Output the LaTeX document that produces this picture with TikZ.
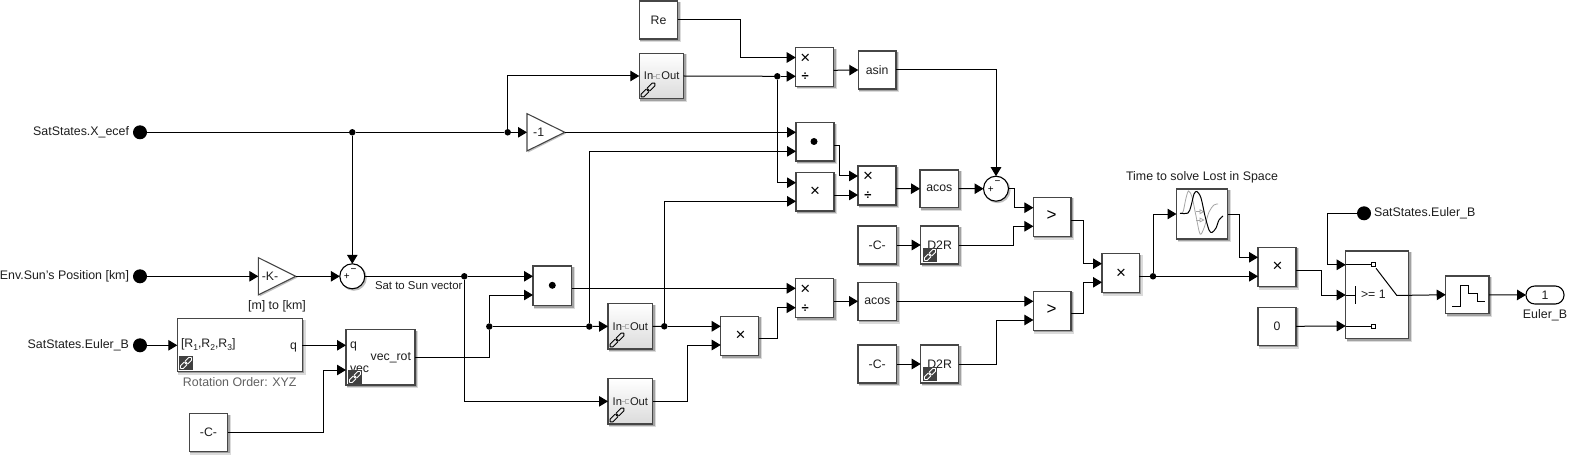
\documentclass[tikz,border=0pt]{standalone}
\usepackage{fontspec}
\setmainfont{Liberation Sans}
\usetikzlibrary{arrows.meta,calc}
\definecolor{edge}{HTML}{464646}
\definecolor{ink}{HTML}{1E1E1E}
\tikzset{
  conn/.style={line width=1pt,black,-{Triangle[length=9pt,width=10.5pt]}},
  wire/.style={line width=1pt,black},
  blk/.style={draw=edge,line width=1.1pt,fill=white,inner sep=0pt,outer sep=0pt,text=ink,font=\fontsize{12.3}{14}\selectfont},
  gradblk/.style={blk,top color=white,bottom color=black!14},
  hollow/.style={inner sep=0pt,outer sep=0pt,text=ink,font=\fontsize{12.3}{14}\selectfont},
  portname/.style={inner sep=0pt,outer sep=0pt,text=ink,font=\fontsize{11.2}{14}\selectfont},
  lbl/.style={inner sep=0pt,outer sep=0pt,text=ink,font=\fontsize{12.4}{14}\selectfont},
  sublbl/.style={inner sep=0pt,outer sep=0pt,text=ink,font=\fontsize{11.4}{14}\selectfont},
  glyph/.style={inner sep=0pt,outer sep=0pt,text=black,font=\fontsize{17}{17}\selectfont},
  divglyph/.style={inner sep=0pt,outer sep=0pt,text=black,font=\fontsize{13}{13}\selectfont\bfseries},
  tinysign/.style={inner sep=0pt,outer sep=0pt,text=black,font=\fontsize{10}{10}\selectfont},
  jn/.style={circle,fill=black,minimum size=6.5pt,inner sep=0pt,outer sep=0pt},
  portdot/.style={circle,fill=black,minimum size=14pt,inner sep=0pt,outer sep=0pt},
  sumblk/.style={circle,draw=black,line width=1.1pt,fill=white,minimum size=25pt,inner sep=0pt,outer sep=0pt},
  ghost/.style={inner sep=0pt,outer sep=0pt,text=ink,font=\fontsize{12.3}{14}\selectfont},
}
\newcommand{\shadowrect}[4]{%
  \fill[black,opacity=.14] ({#1+1},{#2+1}) rectangle ({#3+3.2},{#4+3.2});
  \fill[black,opacity=.26] ({#1+1},{#2+1}) rectangle ({#3+2},{#4+2});
}
\newcommand{\blk}[7][blk]{%
  \shadowrect{#3}{#4}{#5}{#6}
  \node[#1,minimum width={(#5-(#3))*1pt},minimum height={(#6-(#4))*1pt}] (#2) at ({(#3+#5)/2},{(#4+#6)/2}) {#7};
}
\newcommand{\chain}[4]{% x, y (centre), colour, half length
  \begin{scope}[shift={(#1,#2)},rotate=45]
    \draw[#3,line width=.9pt,rounded corners=1.6pt] ({-#4},-1.9) rectangle (0.8,1.9);
    \draw[#3,line width=.9pt,rounded corners=1.6pt] (-0.8,-1.9) rectangle (#4,1.9);
  \end{scope}
}
\newcommand{\darklink}[2]{% left, top
  \fill[black!75] (#1,#2) rectangle ({#1+14},{#2+14});
  \chain{#1+7}{#2+7}{white}{7.5}
}
\newcommand{\inout}[2]{% centre x, y
  \draw[black!30,line width=.7pt] ({#1-4},#2) -- ({#1-1},#2);
  \draw[black!30,line width=.7pt] ({#1+3},{#2-2}) -- ({#1-1},{#2-2}) -- ({#1-1},{#2+2}) -- ({#1+3},{#2+2});
  \node[portname,anchor=east] at ({#1-4},#2) {In};
  \node[portname,anchor=west] at ({#1+4},#2) {Out};
}
\begin{document}
\begin{tikzpicture}[x=1pt,y=-1pt]
\useasboundingbox (0,0) rectangle (1570,457);
\fill[white] (0,0) rectangle (1570,457);

% ---------- source labels and signal dots
\node[lbl,anchor=east] (txa) at (129,132.3) {SatStates.X\_ecef};
\node[lbl,anchor=east] (txb) at (129,276) {Env.Sun's Position [km]};
\node[lbl,anchor=east] (txc) at (129,345) {SatStates.Euler\_B};
\node[portdot] (xdot) at (140,132.3) {};
\node[portdot] (sdot) at (140,276.3) {};
\node[portdot] (edot) at (140,345.3) {};
\node[portdot] (gdot) at (1364,213.3) {};
\node[lbl,anchor=west] (txd) at (1374,213) {SatStates.Euler\_B};

% ---------- gains
\node[ghost,minimum width=37.4pt,minimum height=37.3pt] (gk) at (277,276.3) {};
\fill[black,opacity=.25] (259.5,259) -- (297.5,277.5) -- (259.5,296.5) -- cycle;
\draw[edge,line width=1.1pt,fill=white,line join=miter] (gk.north west) -- (gk.east) -- (gk.south west) -- cycle;
\node[hollow] (gkt) at (270,276.3) {-K-};
\node[lbl] (gkl) at (277,306) {[m] to [km]};
\node[ghost,minimum width=37.7pt,minimum height=37.3pt] (gm) at (545.85,132.3) {};
\fill[black,opacity=.25] (528,115) -- (566,133.5) -- (528,152.5) -- cycle;
\draw[edge,line width=1.1pt,fill=white,line join=miter] (gm.north west) -- (gm.east) -- (gm.south west) -- cycle;
\node[hollow] (gmt) at (538.7,132.3) {-1};

% ---------- sums
\fill[black,opacity=.25] (353.8,277.8) circle (13);
\node[sumblk] (sa) at (352.3,276.3) {};
\node[tinysign] (sap) at (346.7,277) {+};
\node[tinysign] (sam) at (353.6,270.4) {−};
\fill[black,opacity=.25] (997.5,190.2) circle (13);
\node[sumblk] (sb) at (996,188.7) {};
\node[tinysign] (sbp) at (990.7,189.5) {+};
\node[tinysign] (sbm) at (997.5,182.4) {−};

% ---------- blocks
\blk{re}{639.3}{1}{677.7}{39}{Re}
\blk[gradblk]{ua}{639.3}{53.3}{683.7}{98.7}{}
\inout{657.3}{76}
\chain{648}{90}{black}{9.5}
\blk[gradblk]{ub}{608}{303.7}{652.5}{349}{}
\inout{626}{326.3}
\chain{617}{340}{black}{9.5}
\blk[gradblk]{uc}{608}{378.7}{652.5}{424}{}
\inout{626}{401.2}
\chain{617}{415}{black}{9.5}

\blk{ma}{795.7}{47.7}{833.7}{86.3}{}
\node[glyph] (mat) at (805.3,58.3) {×};
\node[divglyph] (mad) at (805.3,77) {÷};
\blk{dd}{796}{122.7}{834}{161}{}
\node[circle,fill=black,minimum size=7pt,inner sep=0pt] (ddt) at (814,141.5) {};
\blk{xa}{796}{172.7}{834}{211}{}
\node[glyph] (xat) at (815,192) {×};
\blk{mb}{858}{166}{896}{205}{}
\node[glyph] (mbt) at (868,176.5) {×};
\node[divglyph] (mbd) at (868,195.3) {÷};
\blk{asin}{858.3}{51}{896}{89}{asin}
\blk{acosa}{920}{170}{958.5}{207.5}{acos}
\blk{ca}{858}{226}{896.5}{264}{-C-}
\blk{da}{920.7}{226}{958.5}{264}{D2R}
\darklink{923}{248}
\blk{dp}{533}{266}{571.5}{305.5}{}
\node[circle,fill=black,minimum size=7pt,inner sep=0pt] (dpt) at (552.3,285.3) {};
\blk{xb}{720.7}{316.3}{758.6}{355.7}{}
\node[glyph] (xbt) at (740.5,335.5) {×};
\blk{mc}{795.7}{278.3}{833.6}{317.7}{}
\node[glyph] (mct) at (805.3,289.5) {×};
\node[divglyph] (mcd) at (805.3,308.5) {÷};
\blk{acosb}{858}{282.3}{896.5}{320.3}{acos}
\blk{cb}{858}{345}{896.5}{383}{-C-}
\blk{db}{920.7}{345}{958.5}{383}{D2R}
\darklink{923}{367}
\blk{gta}{1033.4}{197.3}{1071}{236.3}{}
\node[glyph] (gtat) at (1051.5,216) {>};
\blk{gtb}{1033.4}{291.3}{1071}{330.3}{}
\node[glyph] (gtbt) at (1051.5,310) {>};
\blk{xc}{1102}{253.7}{1139.4}{292.3}{}
\node[glyph] (xct) at (1121,273.5) {×};
\blk{xd}{1258}{247.3}{1296}{286.3}{}
\node[glyph] (xdt) at (1277.5,267) {×};
\blk{zero}{1258}{307.3}{1296}{345.3}{0}

% lookup
\blk{lk}{1176.5}{189}{1227.5}{239}{}
\node[lbl] (lkt) at (1202,177) {Time to solve Lost in Space};
\draw[black!35,line width=.8pt] plot[smooth] coordinates {(1180,213.3) (1183,212) (1186,198) (1188.5,191) (1192,197) (1196,216) (1200,234) (1204,228) (1209,212) (1214,205) (1218,204)};
\draw[black!35,line width=.8pt,-{Triangle[open,length=5pt,width=5pt]}] (1196,211.7) -- (1204.5,211.7);
\draw[black!35,line width=.8pt,-{Triangle[open,length=5pt,width=5pt]}] (1196,220) -- (1204.5,220);
\draw[black,line width=1pt] plot[smooth] coordinates {(1180,213.3) (1188,213) (1191,206) (1194,194) (1197,191.5) (1201,198) (1205,216) (1209,230) (1212,232.5) (1216,228) (1219,220) (1223,216)};

% switch
\blk{sw}{1345.7}{251}{1408.7}{338.7}{}
\draw[black,line width=1pt] (1345.7,264.8) -- (1371.5,264.8);
\draw[black,line width=.8pt] (1371.5,262.8) rectangle (1375.5,266.8);
\draw[black,line width=1pt] (1376,268.3) -- (1396.7,295.3) -- (1408.7,295.3);
\draw[black,line width=1pt] (1345.7,295) -- (1355.3,295);
\draw[black,line width=1pt] (1355.3,286) -- (1355.3,303.5);
\node[hollow,anchor=west] (swt) at (1361,294.5) {>= 1};
\draw[black,line width=1pt] (1345.7,326) -- (1371.5,326);
\draw[black,line width=.8pt] (1371.5,324) rectangle (1375.5,328);

% zero order hold
\blk{zoh}{1445.7}{276}{1489}{313.5}{}
\draw[black,line width=1pt] (1452.3,306.3) -- (1460,306.3) -- (1460,285.3) -- (1468.3,285.3) -- (1468.3,293) -- (1477.3,293) -- (1477.3,301.3) -- (1484.7,301.3);

% outport
\node[blk,draw=black,rounded corners=8.8pt,minimum width=38pt,minimum height=18pt] (op) at (1545,295) {1};
\node[lbl] (opl) at (1545,315) {Euler\_B};

% rotation blocks
\blk{eu}{177.3}{318.7}{302.3}{371.3}{}
\node[hollow,anchor=west] (eua) at (181,345) {[R\raisebox{-3pt}{\fontsize{8.5}{9}\selectfont 1},R\raisebox{-3pt}{\fontsize{8.5}{9}\selectfont 2},R\raisebox{-3pt}{\fontsize{8.5}{9}\selectfont 3}]};
\node[hollow,anchor=east] (eub) at (297,347) {q};
\darklink{179}{356}
\node[lbl,text=black!62] (eul) at (239.7,381.7) {Rotation Order: XYZ};
\blk{vr}{346}{329.7}{415}{385}{}
\node[hollow,anchor=west] (vra) at (350,346) {q};
\node[hollow,anchor=west] (vrb) at (350,369.5) {vec};
\node[hollow,anchor=east] (vrc) at (411,357.8) {vec\_rot};
\darklink{348}{370}
\blk{cc}{189.3}{413.7}{227.7}{451.3}{-C-}
\node[sublbl,anchor=west] (ssv) at (375,286) {Sat to Sun vector};

% ---------- ports away from block centres
\coordinate (maa) at (ma.west |- 0,57.5);
\coordinate (mab) at (ma.west |- 0,76.3);
\coordinate (mao) at (ma.east |- 0,70.3);
\coordinate (dda) at (dd.west |- 0,132.3);
\coordinate (ddb) at (dd.west |- 0,151.3);
\coordinate (ddo) at (dd.east |- 0,145.3);
\coordinate (xaa) at (xa.west |- 0,182.7);
\coordinate (xab) at (xa.west |- 0,201.3);
\coordinate (xao) at (xa.east |- 0,195);
\coordinate (mba) at (mb.west |- 0,176);
\coordinate (mbb) at (mb.west |- 0,195);
\coordinate (mbo) at (mb.east |- 0,188.5);
\coordinate (dpa) at (dp.west |- 0,276.3);
\coordinate (dpb) at (dp.west |- 0,295);
\coordinate (dpo) at (dp.east |- 0,288.3);
\coordinate (xba) at (xb.west |- 0,326.3);
\coordinate (xbb) at (xb.west |- 0,345);
\coordinate (xbo) at (xb.east |- 0,338.3);
\coordinate (mca) at (mc.west |- 0,288.3);
\coordinate (mcb) at (mc.west |- 0,307.7);
\coordinate (mco) at (mc.east |- 0,301.3);
\coordinate (gaa) at (gta.west |- 0,207.7);
\coordinate (gab) at (gta.west |- 0,226.3);
\coordinate (gao) at (gta.east |- 0,220.3);
\coordinate (gba) at (gtb.west |- 0,301.3);
\coordinate (gbb) at (gtb.west |- 0,320);
\coordinate (gbo) at (gtb.east |- 0,313.3);
\coordinate (xca) at (xc.west |- 0,263.7);
\coordinate (xcb) at (xc.west |- 0,282.3);
\coordinate (xco) at (xc.east |- 0,276.3);
\coordinate (xda) at (xd.west |- 0,257.3);
\coordinate (xdb) at (xd.west |- 0,276.3);
\coordinate (xdo) at (xd.east |- 0,270);
\coordinate (swa) at (sw.west |- 0,264.8);
\coordinate (swb) at (sw.west |- 0,295);
\coordinate (swc) at (sw.west |- 0,326);
\coordinate (swo) at (sw.east |- 0,295.3);
\coordinate (eui) at (eu.west |- 0,345.3);
\coordinate (euo) at (eu.east |- 0,345.3);
\coordinate (vra2) at (vr.west |- 0,345.3);
\coordinate (vrb2) at (vr.west |- 0,370);

% ---------- junctions
\node[jn] (ja) at (352.3,132.3) {};
\node[jn] (jb) at (507.7,132.3) {};
\node[jn] (jc) at (777.3,76.3) {};
\node[jn] (jd) at (464.3,276.3) {};
\node[jn] (je) at (489.3,326.5) {};
\node[jn] (jf) at (589.3,326.5) {};
\node[jn] (jg) at (664.3,326.3) {};
\node[jn] (jh) at (1153,276.3) {};

% ---------- connectors
\draw[wire] (xdot) -- (ja);
\draw[wire] (ja) -- (jb);
\draw[conn] (jb) -- (gm.west);
\draw[conn] (ja) -- (sa.north);
\draw[conn] (jb) |- (ua.west);
\draw[wire] (ua.east) -- (jc);
\draw[conn] (jc) -- (mab);
\draw[conn] (jc) |- (xaa);
\draw[conn] (re.east) -| (740,57.5) -- (maa);
\draw[conn] (mao) -- (asin.west);
\draw[conn] (gm.east) -- (dda);
\draw[conn] (ddo) -| (839.5,176) -- (mba);
\draw[conn] (xao) -- (mbb);
\draw[conn] (mbo) -- (acosa.west);
\draw[conn] (acosa.east) -- (sb.west);
\draw[conn] (asin.east) -| (sb.north);
\draw[conn] (sb.east) -| (1014.3,207.7) -- (gaa);
\draw[conn] (ca.east) -- (da.west);
\draw[conn] (da.east) -| (1013.3,226.3) -- (gab);
\draw[conn] (sdot) -- (gk.west);
\draw[conn] (gk.east) -- (sa.west);
\draw[wire] (sa.east) -- (jd);
\draw[conn] (jd) -- (dpa);
\draw[conn] (jd) |- (uc.west);
\draw[conn] (edot) -- (eui);
\draw[conn] (euo) -- (vra2);
\draw[conn] (cc.east) -| (323.7,370) -- (vrb2);
\draw[wire] (vr.east) -| (je);
\draw[conn] (je) |- (dpb);
\draw[wire] (je) -- (jf);
\draw[conn] (jf) -- (ub.west);
\draw[conn] (jf) |- (ddb);
\draw[wire] (ub.east) -- (jg);
\draw[conn] (jg) -- (xba);
\draw[conn] (jg) |- (xab);
\draw[conn] (uc.east) -| (687.5,345) -- (xbb);
\draw[conn] (xbo) -| (777.5,307.7) -- (mcb);
\draw[conn] (dpo) -- (mca);
\draw[conn] (mco) -- (acosb.west);
\draw[conn] (acosb.east) -- (gba);
\draw[conn] (cb.east) -- (db.west);
\draw[conn] (db.east) -| (996.4,320) -- (gbb);
\draw[conn] (gao) -| (1083.5,263.7) -- (xca);
\draw[conn] (gbo) -| (1083.5,282.3) -- (xcb);
\draw[wire] (xco) -- (jh);
\draw[conn] (jh) -- (xdb);
\draw[conn] (jh) |- (lk.west);
\draw[conn] (lk.east) -| (1239,257.3) -- (xda);
\draw[conn] (gdot) -| (1327,264.8) -- (swa);
\draw[conn] (xdo) -| (1321,295) -- (swb);
\draw[conn] (zero.east) -- (swc);
\draw[conn] (swo) -- (zoh.west);
\draw[conn] (zoh.east) -- (op.west);
\end{tikzpicture}
\end{document}
